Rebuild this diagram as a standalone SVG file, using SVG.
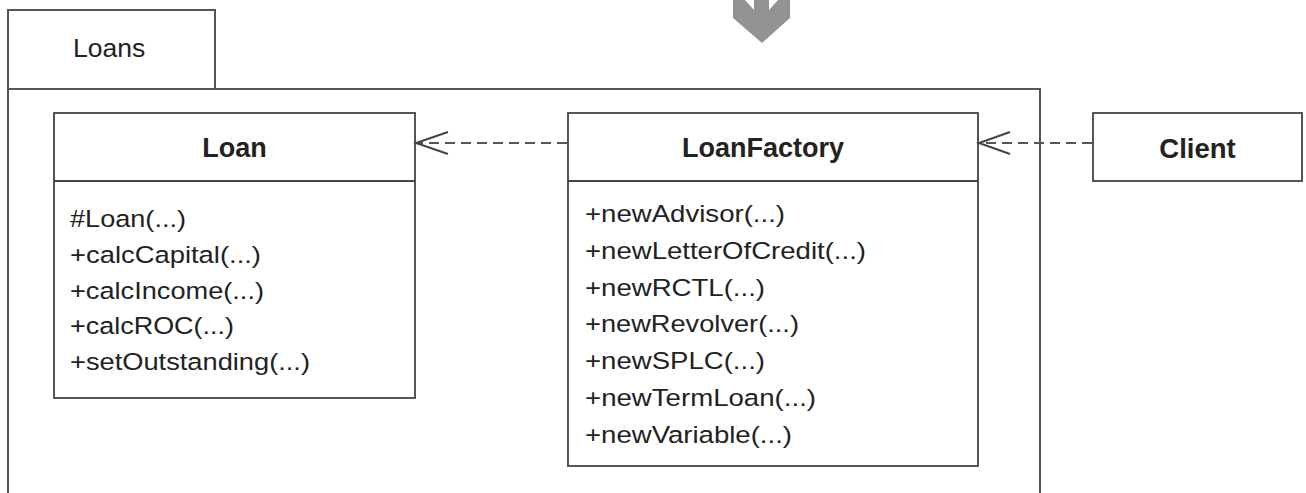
<svg xmlns="http://www.w3.org/2000/svg" width="1306" height="493" viewBox="0 0 1306 493">
<style>
.box{fill:#fff;stroke:#444;stroke-width:1.8}
.pkg{fill:none;stroke:#555;stroke-width:2}
.t{font-family:"Liberation Sans",Arial,sans-serif;font-size:24.5px;fill:#222}
.b{font-family:"Liberation Sans",Arial,sans-serif;font-size:27px;font-weight:bold;fill:#222;text-anchor:middle}
.dep{fill:none;stroke:#555;stroke-width:2;stroke-dasharray:10 6}
.head{fill:none;stroke:#444;stroke-width:2}
</style>
<rect width="1306" height="493" fill="#fff"/>
<polygon points="733,0 745,0 754,10 754,0 769,0 769,10 778,0 790,0 790,18 762,43 733,18" fill="#939393"/>
<g id="Loans">
<rect class="pkg" x="8" y="10" width="207" height="79"/>
<rect class="pkg" x="8" y="89" width="1032" height="440"/>
<text class="t" x="73" y="57" style="font-size:26.5px">Loans</text>
</g>
<g id="Loan">
<rect class="box" x="54" y="113" width="361" height="285"/>
<line class="box" x1="54" y1="181" x2="415" y2="181"/>
<text class="b" x="234.5" y="157">Loan</text>
<text class="t" x="70" y="227" textLength="116" lengthAdjust="spacingAndGlyphs">#Loan(...)</text>
<text class="t" x="70" y="263" textLength="191" lengthAdjust="spacingAndGlyphs">+calcCapital(...)</text>
<text class="t" x="70" y="299" textLength="194" lengthAdjust="spacingAndGlyphs">+calcIncome(...)</text>
<text class="t" x="70" y="334" textLength="164" lengthAdjust="spacingAndGlyphs">+calcROC(...)</text>
<text class="t" x="70" y="370" textLength="240" lengthAdjust="spacingAndGlyphs">+setOutstanding(...)</text>
</g>
<g id="LoanFactory">
<rect class="box" x="568" y="113" width="410" height="353"/>
<line class="box" x1="568" y1="181" x2="978" y2="181"/>
<text class="b" x="763" y="157">LoanFactory</text>
<text class="t" x="585" y="222" textLength="200" lengthAdjust="spacingAndGlyphs">+newAdvisor(...)</text>
<text class="t" x="585" y="259" textLength="281" lengthAdjust="spacingAndGlyphs">+newLetterOfCredit(...)</text>
<text class="t" x="585" y="296" textLength="180" lengthAdjust="spacingAndGlyphs">+newRCTL(...)</text>
<text class="t" x="585" y="332" textLength="214" lengthAdjust="spacingAndGlyphs">+newRevolver(...)</text>
<text class="t" x="585" y="369" textLength="180" lengthAdjust="spacingAndGlyphs">+newSPLC(...)</text>
<text class="t" x="585" y="406" textLength="231" lengthAdjust="spacingAndGlyphs">+newTermLoan(...)</text>
<text class="t" x="585" y="443" textLength="207" lengthAdjust="spacingAndGlyphs">+newVariable(...)</text>
</g>
<g id="Client">
<rect class="box" x="1093" y="113" width="209" height="68"/>
<text class="b" x="1197.5" y="158" style="font-size:27.5px">Client</text>
</g>
<g id="connectors">
<line class="dep" x1="567" y1="143" x2="417" y2="143"/>
<polyline class="head" points="448,132 416,143 448,154"/>
<line class="dep" x1="1092" y1="143" x2="980" y2="143"/>
<polyline class="head" points="1010,132 979,143 1010,154"/>
</g>
</svg>
